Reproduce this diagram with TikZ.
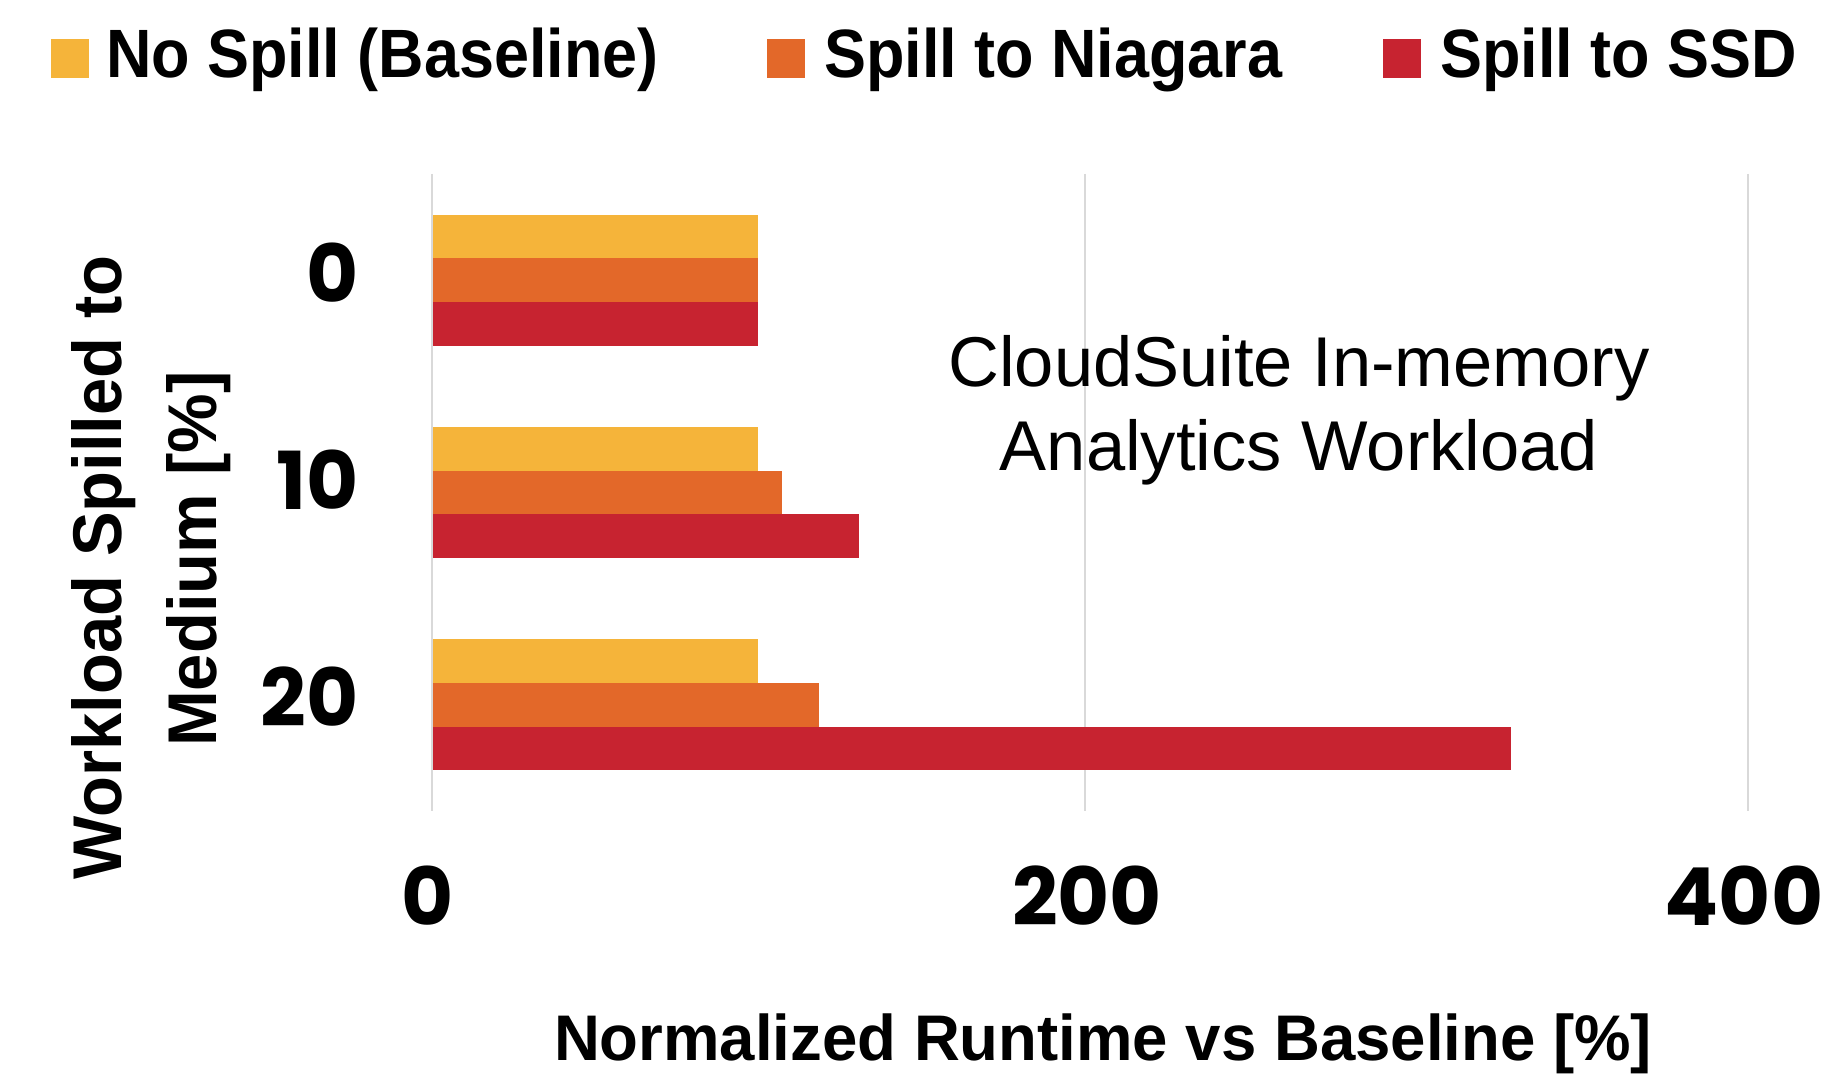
\documentclass[tikz,border=0pt]{standalone}
\usepackage{fontspec}
\setmainfont{Liberation Sans}
\newfontfamily\legfont{Liberation Sans}[FakeStretch=0.92]
\newfontfamily\axtitlefont{Liberation Sans}[FakeStretch=0.985]
\newfontfamily\ytitlefont{Liberation Sans}[FakeStretch=0.97]
\newfontfamily\tickfont{Poppins}
\newfontfamily\notefont{Liberation Sans}

\definecolor{barYellow}{RGB}{245,180,58}
\definecolor{barOrange}{RGB}{227,104,41}
\definecolor{barRed}{RGB}{199,35,48}
\definecolor{gridGray}{RGB}{217,217,217}

\tikzset{
  gridline/.style={draw=gridGray, line width=2.5pt},
  legsquare/.style={draw=none, minimum width=38pt, minimum height=38.5pt, inner sep=0pt},
  legtext/.style={anchor=base west, inner sep=0pt, font=\legfont\bfseries\fontsize{68.4}{80}\selectfont},
  ytick/.style={anchor=base east, inner sep=0pt, font=\tickfont\bfseries\fontsize{80}{90}\selectfont},
  xtick/.style={anchor=base, inner sep=0pt, font=\tickfont\bfseries\fontsize{80}{90}\selectfont},
  notetext/.style={anchor=base, inner sep=0pt, font=\notefont\fontsize{70.5}{84}\selectfont},
  ytitle/.style={anchor=base, rotate=90, inner sep=0pt, font=\ytitlefont\bfseries\fontsize{69}{80}\selectfont},
  xtitle/.style={anchor=base, inner sep=0pt, font=\axtitlefont\bfseries\fontsize{64.5}{76}\selectfont},
}

\begin{document}
\begin{tikzpicture}[x=1pt, y=-1pt]
  % page frame
  \path[use as bounding box, fill=white] (0,0) rectangle (1825,1078);

  % legend
  \node[legsquare, fill=barYellow, anchor=south west] (sqbase) at (51,78) {};
  \node[legtext] (lbase) at (106,78) {No Spill (Baseline)};
  \node[legsquare, fill=barOrange, anchor=south west] (sqnia) at (767,78) {};
  \node[legtext] (lnia) at (824,78) {Spill to Niagara};
  \node[legsquare, fill=barRed, anchor=south west] (sqssd) at (1383,78) {};
  \node[legtext] (lssd) at (1440,78) {Spill to SSD};

  % vertical grid lines at 0, 200, 400
  \draw[gridline] (431.8,174) -- (431.8,811);
  \draw[gridline] (1085,174) -- (1085,811);
  \draw[gridline] (1748,174) -- (1748,811);

  % bars: 0 %
  \fill[barYellow] (432.6,214.7) rectangle (758.3,258.4);
  \fill[barOrange] (432.6,258.4) rectangle (758.3,302.0);
  \fill[barRed]    (432.6,302.0) rectangle (758.3,345.7);
  % bars: 10 %
  \fill[barYellow] (432.6,427.0) rectangle (758.3,470.7);
  \fill[barOrange] (432.6,470.7) rectangle (781.8,514.3);
  \fill[barRed]    (432.6,514.3) rectangle (858.5,558.0);
  % bars: 20 %
  \fill[barYellow] (432.6,639.3) rectangle (758.3,683.0);
  \fill[barOrange] (432.6,683.0) rectangle (819.4,726.6);
  \fill[barRed]    (432.6,726.6) rectangle (1511,770.3);

  % category labels
  \node[ytick] (y0)  at (359,302.5) {0};
  \node[ytick] (y10) at (359,509) {10};
  \node[ytick] (y20) at (359,726) {20};

  % value labels
  \node[xtick] (x0)   at (428,925.5) {0};
  \node[xtick] (x200) at (1087,925.5) {200};
  \node[xtick] (x400) at (1744,925.5) {400};

  % annotation
  \node[notetext] (note1) at (1299,386.6) {CloudSuite In-memory};
  \node[notetext] (note2) at (1299,470.5) {Analytics Workload};

  % axis titles
  \node[ytitle] (yt1) at (121.7,567.4) {Workload Spilled to};
  \node[ytitle] (yt2) at (216.7,559) {Medium [\%]};
  \node[xtitle] (xt) at (1103,1060) {Normalized Runtime vs Baseline [\%]};
\end{tikzpicture}
\end{document}
